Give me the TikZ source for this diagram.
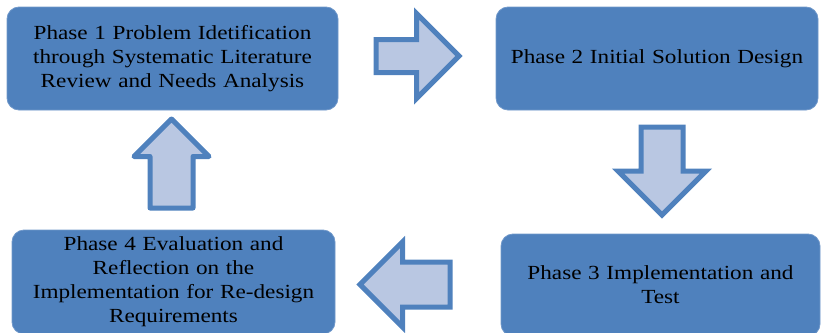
\documentclass[tikz,border=0pt]{standalone}
\usepackage{fontspec}
\setmainfont{Liberation Serif}[FakeStretch=1.16]
\usetikzlibrary{shapes.arrows}

\definecolor{phaseblue}{RGB}{79,129,189}
\definecolor{phaseline}{RGB}{112,152,202}
\definecolor{arrowfill}{RGB}{185,199,226}

\tikzset{
    phase/.style={rectangle, rounded corners=12pt, draw=phaseline, line width=0.8pt,
        fill=phaseblue, align=center, inner sep=0pt,
        font=\fontsize{20}{24}\selectfont},
    blockarrow/.style={single arrow, draw=phaseblue, fill=arrowfill, line width=5pt,
        inner xsep=0pt, single arrow head indent=0pt, anchor=tail},
}

\begin{document}
\begin{tikzpicture}[x=1pt, y=-1pt]
        \useasboundingbox (0,0) rectangle (821,332);

        % Phases
        \node (p1) [phase, minimum width=331pt, minimum height=103pt, text width=320pt] at (172.5, 58.5) {Phase 1 Problem Idetification\\through Systematic Literature\\Review and Needs Analysis};
        \node (p2) [phase, minimum width=322pt, minimum height=103pt, text width=318pt] at (657, 58.5) {Phase 2 Initial Solution Design};
        \node (p3) [phase, minimum width=319pt, minimum height=102pt, text width=310pt] at (660.5, 285) {Phase 3 Implementation and\\Test};
        \node (p4) [phase, minimum width=323pt, minimum height=104pt, text width=318pt] at (173.5, 282) {Phase 4 Evaluation and\\Reflection on the\\Implementation for Re-design\\Requirements};

        % Block arrows
        \node (a12) [blockarrow, inner ysep=14pt, minimum height=83pt, minimum width=80pt, single arrow head extend=26pt] at (373.5, 56) {};
        \node (a23) [blockarrow, rotate=-90, inner ysep=18.5pt, minimum height=88pt, minimum width=83pt, single arrow head extend=23pt] at (662, 124.5) {};
        \node (a34) [blockarrow, rotate=180, inner ysep=20pt, minimum height=90pt, minimum width=80pt, single arrow head extend=20pt] at (452.5, 284.5) {};
        \node (a41) [blockarrow, rotate=90, line join=round, inner ysep=19pt, minimum height=89pt, minimum width=70pt, single arrow head extend=16pt] at (171.5, 210.5) {};

    \end{tikzpicture}
\end{document}
